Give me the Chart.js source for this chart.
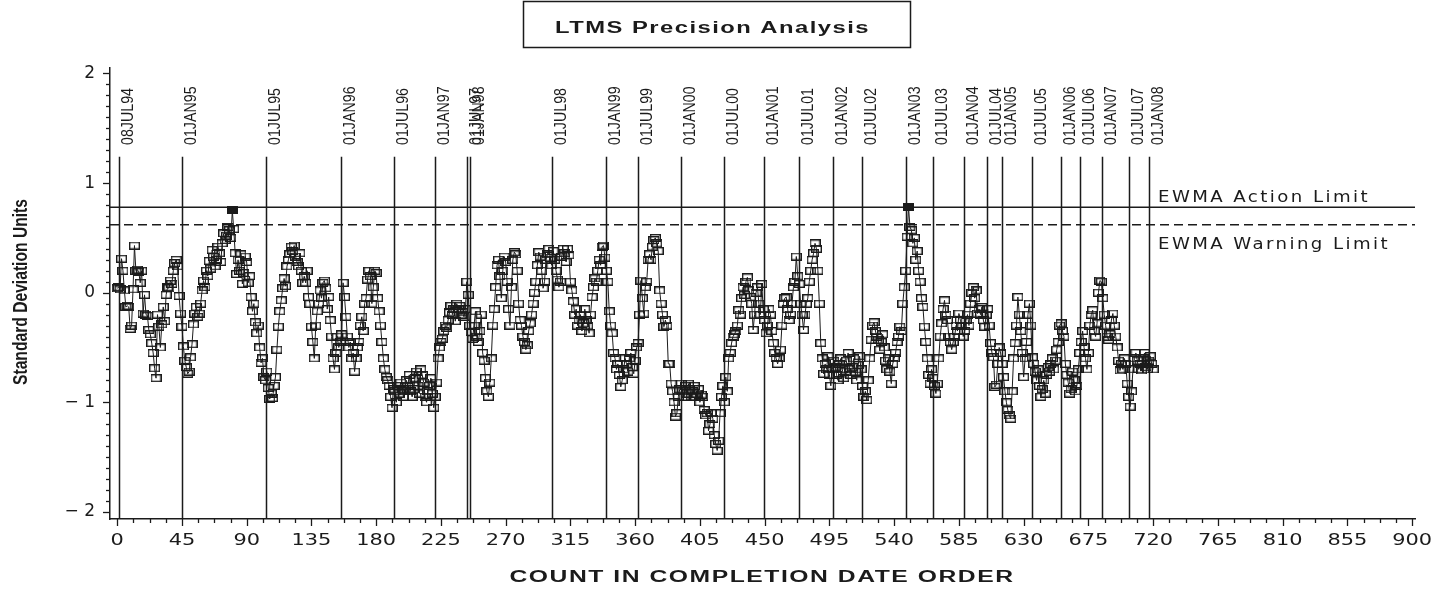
<!DOCTYPE html>
<html lang="en">
<head>
<meta charset="UTF-8">
<title>LTMS Precision Analysis</title>
<script src="https://cdn.jsdelivr.net/npm/chart.js"></script>
<style>
  body { margin: 0; background: #fff; }
  canvas { display: block; }
</style>
</head>
<body>
<canvas id="ewma" width="1451" height="593"></canvas>
<script>
// EWMA values, one per test, in completion date order (count 0..720)
const sdUnits = [
  0.04, 0.05, 0.03, 0.31, 0.20, 0.02, -0.13, -0.12, -0.13, -0.33,
  -0.30, 0.03, 0.43, 0.20, 0.21, 0.19, 0.09, 0.20, -0.19, -0.02,
  -0.20, -0.21, -0.34, -0.38, -0.46, -0.55, -0.69, -0.78, -0.20, -0.31,
  -0.50, -0.29, -0.13, -0.26, -0.02, 0.05, 0.04, 0.11, 0.08, 0.20,
  0.27, 0.30, 0.24, -0.03, -0.19, -0.31, -0.49, -0.62, -0.68, -0.74,
  -0.72, -0.59, -0.47, -0.29, -0.19, -0.13, -0.22, -0.19, -0.10, 0.02,
  0.11, 0.05, 0.20, 0.15, 0.29, 0.22, 0.39, 0.33, 0.24, 0.30,
  0.42, 0.36, 0.28, 0.45, 0.54, 0.48, 0.52, 0.60, 0.57, 0.50,
  0.75, 0.58, 0.36, 0.17, 0.30, 0.20, 0.35, 0.08, 0.18, 0.33,
  0.28, 0.09, 0.15, -0.04, -0.17, -0.10, -0.27, -0.37, -0.30, -0.50,
  -0.64, -0.60, -0.77, -0.80, -0.72, -0.87, -0.97, -0.92, -0.96, -0.85,
  -0.77, -0.52, -0.31, -0.17, -0.07, 0.04, 0.13, 0.06, 0.24, 0.30,
  0.35, 0.42, 0.38, 0.43, 0.33, 0.28, 0.24, 0.36, 0.20, 0.09,
  0.15, 0.09, 0.20, -0.04, -0.10, -0.31, -0.45, -0.60, -0.30, -0.17,
  -0.10, 0.02, -0.05, 0.09, 0.11, 0.04, -0.15, -0.04, -0.25, -0.40,
  -0.60, -0.70, -0.55, -0.40, -0.50, -0.45, -0.38, 0.09, -0.04, -0.22,
  -0.40, -0.50, -0.45, -0.60, -0.55, -0.72, -0.60, -0.50, -0.45, -0.30,
  -0.22, -0.35, -0.10, -0.05, 0.12, 0.20, 0.15, -0.10, 0.05, 0.20,
  0.18, -0.05, -0.17, -0.30, -0.45, -0.60, -0.70, -0.77, -0.80, -0.85,
  -0.95, -1.05, -0.88, -0.90, -1.00, -0.85, -0.92, -0.82, -0.88, -0.95,
  -0.90, -0.80, -0.85, -0.75, -0.90, -0.95, -0.88, -0.78, -0.72, -0.85,
  -0.92, -0.70, -0.75, -0.82, -0.95, -1.00, -0.90, -0.85, -0.78, -0.92,
  -1.05, -0.95, -0.82, -0.60, -0.50, -0.45, -0.42, -0.35, -0.30, -0.32,
  -0.25, -0.18, -0.12, -0.20, -0.15, -0.26, -0.10, -0.15, -0.12, -0.20,
  -0.18, -0.22, -0.15, 0.10, -0.02, -0.30, -0.36, -0.42, -0.30, -0.17,
  -0.40, -0.45, -0.35, -0.20, -0.55, -0.62, -0.78, -0.90, -0.95, -0.82,
  -0.60, -0.30, -0.15, 0.05, 0.25, 0.30, 0.15, -0.05, 0.20, 0.33,
  0.28, 0.10, -0.15, -0.30, 0.05, 0.30, 0.37, 0.35, 0.20, -0.10,
  -0.25, -0.30, -0.40, -0.45, -0.52, -0.48, -0.35, -0.28, -0.20, -0.10,
  0.00, 0.10, 0.25, 0.37, 0.33, 0.20, 0.04, 0.10, 0.30, 0.35,
  0.40, 0.32, 0.25, 0.38, 0.30, 0.20, 0.12, 0.05, 0.10, 0.33,
  0.40, 0.36, 0.28, 0.40, 0.34, 0.10, 0.02, -0.08, -0.20, -0.15,
  -0.30, -0.25, -0.20, -0.35, -0.28, -0.15, -0.25, -0.30, -0.37, -0.20,
  -0.04, 0.05, 0.13, 0.10, 0.20, 0.30, 0.25, 0.42, 0.43, 0.32,
  0.20, 0.10, -0.17, -0.30, -0.37, -0.55, -0.60, -0.70, -0.65, -0.75,
  -0.86, -0.80, -0.70, -0.60, -0.65, -0.72, -0.60, -0.55, -0.68, -0.74,
  -0.62, -0.50, -0.46, -0.20, 0.11, -0.05, -0.19, 0.05, 0.10, 0.30,
  0.35, 0.30, 0.42, 0.48, 0.50, 0.45, 0.38, 0.02, -0.10, -0.20,
  -0.31, -0.25, -0.30, -0.65, -0.65, -0.83, -0.90, -1.00, -1.13, -1.10,
  -0.95, -0.88, -0.83, -0.90, -0.95, -0.85, -0.92, -0.83, -0.88, -0.95,
  -0.90, -0.85, -0.95, -0.92, -0.88, -1.00, -0.93, -0.95, -1.07, -1.12,
  -1.10, -1.26, -1.20, -1.10, -1.15, -1.30, -1.38, -1.44, -1.35, -1.10,
  -0.95, -0.85, -1.00, -0.77, -0.90, -0.60, -0.55, -0.46, -0.40, -0.38,
  -0.35, -0.30, -0.16, -0.20, -0.05, 0.05, -0.02, 0.10, 0.14, 0.02,
  -0.04, -0.10, -0.34, -0.20, 0.00, 0.05, -0.10, -0.20, 0.08, -0.15,
  -0.25, -0.37, -0.30, -0.15, -0.20, -0.35, -0.46, -0.55, -0.60, -0.65,
  -0.60, -0.52, -0.30, -0.10, -0.05, -0.04, -0.15, -0.25, -0.20, -0.10,
  0.05, 0.10, 0.33, 0.15, 0.08, -0.10, -0.20, -0.34, -0.20, -0.10,
  -0.05, 0.10, 0.20, 0.30, 0.36, 0.45, 0.40, 0.20, -0.10, -0.46,
  -0.60, -0.74, -0.65, -0.70, -0.58, -0.75, -0.85, -0.70, -0.62, -0.68,
  -0.75, -0.80, -0.65, -0.60, -0.70, -0.78, -0.72, -0.62, -0.55, -0.70,
  -0.75, -0.68, -0.60, -0.72, -0.80, -0.66, -0.58, -0.70, -0.85, -0.95,
  -0.90, -0.98, -0.80, -0.60, -0.43, -0.30, -0.27, -0.35, -0.40, -0.43,
  -0.52, -0.45, -0.38, -0.50, -0.62, -0.70, -0.60, -0.72, -0.83, -0.65,
  -0.60, -0.55, -0.45, -0.40, -0.31, -0.35, -0.10, 0.05, 0.20, 0.51,
  0.78, 0.60, 0.57, 0.45, 0.50, 0.30, 0.38, 0.20, 0.10, -0.05,
  -0.13, -0.31, -0.45, -0.60, -0.75, -0.83, -0.70, -0.78, -0.85, -0.92,
  -0.83, -0.60, -0.40, -0.28, -0.15, -0.07, -0.20, -0.25, -0.40, -0.45,
  -0.52, -0.45, -0.40, -0.30, -0.35, -0.19, -0.25, -0.30, -0.40, -0.35,
  -0.25, -0.20, -0.30, -0.10, 0.00, 0.05, -0.05, 0.02, -0.19, -0.15,
  -0.20, -0.13, -0.25, -0.31, -0.20, -0.15, -0.30, -0.46, -0.55, -0.59,
  -0.86, -0.84, -0.65, -0.50, -0.55, -0.65, -0.77, -0.90, -1.00, -1.07,
  -1.12, -1.15, -0.90, -0.60, -0.46, -0.30, -0.04, -0.20, -0.35, -0.55,
  -0.77, -0.60, -0.45, -0.20, -0.10, -0.30, -0.59, -0.65, -0.72, -0.80,
  -0.70, -0.85, -0.95, -0.88, -0.80, -0.92, -0.75, -0.68, -0.72, -0.65,
  -0.60, -0.70, -0.62, -0.52, -0.45, -0.30, -0.28, -0.35, -0.40, -0.65,
  -0.75, -0.82, -0.92, -0.88, -0.72, -0.80, -0.90, -0.85, -0.70, -0.55,
  -0.45, -0.35, -0.50, -0.60, -0.70, -0.55, -0.30, -0.20, -0.16, -0.35,
  -0.40, -0.28, 0.00, 0.11, 0.10, -0.05, -0.20, -0.30, -0.40, -0.43,
  -0.38, -0.25, -0.19, -0.30, -0.40, -0.50, -0.62, -0.71, -0.65, -0.70,
  -0.60, -0.65, -0.83, -0.95, -1.04, -0.90, -0.70, -0.60, -0.55, -0.62,
  -0.70, -0.65, -0.71, -0.60, -0.55, -0.68, -0.70, -0.62, -0.58, -0.65,
  -0.70
];

const actionLimit = 0.78;
const warningLimit = 0.62;

const xTickValues = [0, 45, 90, 135, 180, 225, 270, 315, 360, 405, 450, 495, 540, 585, 630, 675, 720, 765, 810, 855, 900];
const yTickValues = [-2, -1, 0, 1, 2];
const yTickLabels = ['\u2212 2', '\u2212 1', '0', '1', '2'];

// reference dates and the count at which they fall
const dateLabels = ['08JUL94', '01JAN95', '01JUL95', '01JAN96', '01JUL96', '01JAN97', '01JUL97', '01JAN98',
  '01JUL98', '01JAN99', '01JUL99', '01JAN00', '01JUL00', '01JAN01', '01JUL01', '01JAN02', '01JUL02',
  '01JAN03', '01JUL03', '01JAN04', '01JUL04', '01JAN05', '01JUL05', '01JAN06', '01JUL06', '01JAN07',
  '01JUL07', '01JAN08'];
const dateCounts = [1, 45, 103.5, 155.4, 192.5, 221, 243, 245, 302.5, 339.8, 362.3, 392, 421.4, 449.6,
  474.2, 497.8, 517.5, 548, 567.3, 588.6, 604.4, 615.3, 636, 655.8, 669.3, 684.8, 702.9, 717.2];

const ink = '#1b1b1b';
const xMin = -5, xMax = 902, yMin = -2.065, yMax = 2.05;
const dateLineTop = 1.24;

function boxImage(filled) {
  const c = document.createElement('canvas');
  c.width = 11; c.height = 8;
  const g = c.getContext('2d');
  g.strokeStyle = ink; g.lineWidth = 1.4;
  if (filled) { g.fillStyle = ink; g.fillRect(0.7, 0.7, 9.6, 6.6); }
  g.strokeRect(0.7, 0.7, 9.6, 6.6);
  return c;
}
const openBox = boxImage(false);
const fullBox = boxImage(true);

// draw text squeezed/stretched to a given width
function fitText(ctx, text, x, y, width, align) {
  const w = ctx.measureText(text).width;
  ctx.save();
  ctx.translate(x, y);
  ctx.scale(width / w, 1);
  ctx.textAlign = align;
  ctx.fillText(text, 0, 0);
  ctx.restore();
}

function line(ctx, x1, y1, x2, y2) {
  ctx.beginPath(); ctx.moveTo(x1, y1); ctx.lineTo(x2, y2); ctx.stroke();
}

const decor = {
  id: 'decor',
  beforeDatasetsDraw(chart) {
    const { ctx, chartArea: a, scales: { x, y } } = chart;
    ctx.save();
    ctx.strokeStyle = ink;
    ctx.fillStyle = ink;
    ctx.lineWidth = 1.5;
    ctx.font = '16px "Liberation Sans", Arial, sans-serif';
    ctx.textBaseline = 'alphabetic';
    const s = 57 / ctx.measureText('08JUL94').width;
    const top = y.getPixelForValue(dateLineTop);
    dateCounts.forEach((c, i) => {
      const px = Math.round(x.getPixelForValue(c)) + 0.5;
      line(ctx, px, top, px, a.bottom);
      ctx.save();
      ctx.translate(px + 13, 145);
      ctx.rotate(-Math.PI / 2);
      ctx.scale(s, 1);
      ctx.textAlign = 'left';
      ctx.fillText(dateLabels[i], 0, 0);
      ctx.restore();
    });
    ctx.restore();
  },
  afterDraw(chart) {
    const { ctx, chartArea: a, scales: { x, y } } = chart;
    ctx.save();
    ctx.strokeStyle = ink;
    ctx.fillStyle = ink;
    ctx.lineWidth = 1.3;

    // tick marks, major and minor
    for (let k = -20; k <= 20; k++) {
      const py = Math.round(y.getPixelForValue(k / 10)) + 0.5;
      line(ctx, a.left - (k % 10 === 0 ? 7 : 4), py, a.left, py);
    }
    for (let k = 0; k <= 80; k++) {
      const px = Math.round(x.getPixelForValue(k * 11.25)) + 0.5;
      line(ctx, px, a.bottom, px, a.bottom + (k % 4 === 0 ? 7 : 4));
    }

    // x tick labels
    ctx.font = '15px "DejaVu Sans", sans-serif';
    ctx.textBaseline = 'alphabetic';
    x.ticks.forEach(t => {
      const txt = String(t.value);
      fitText(ctx, txt, x.getPixelForValue(t.value), 545, 13.3 * txt.length, 'center');
    });

    // limit labels
    ctx.font = '15px "DejaVu Sans", sans-serif';
    ctx.letterSpacing = '2px';
    fitText(ctx, 'EWMA Action Limit', 1158, 202, 212, 'left');
    fitText(ctx, 'EWMA Warning Limit', 1158, 249, 232, 'left');
    ctx.letterSpacing = '0px';

    // title box
    ctx.lineWidth = 1.5;
    ctx.strokeRect(523.5, 1.5, 387, 46);
    ctx.font = 'bold 16px "Liberation Sans", Arial, sans-serif';
    ctx.letterSpacing = '1px';
    fitText(ctx, 'LTMS Precision Analysis', 712.5, 33, 315, 'center');

    // axis titles
    fitText(ctx, 'COUNT IN COMPLETION DATE ORDER', 762, 582, 505, 'center');
    ctx.letterSpacing = '0px';
    ctx.save();
    ctx.translate(27, 292);
    ctx.rotate(-Math.PI / 2);
    ctx.font = 'bold 21px "Liberation Sans Narrow", "Liberation Sans", Arial, sans-serif';
    fitText(ctx, 'Standard Deviation Units', 0, 0, 186, 'center');
    ctx.restore();
    ctx.restore();
  }
};

const points = sdUnits.map((v, i) => ({ x: i, y: v }));

new Chart(document.getElementById('ewma'), {
  type: 'line',
  data: {
    datasets: [
      {
        data: points,
        borderColor: ink,
        borderWidth: 1,
        pointRadius: 4,
        pointStyle: ctx => (ctx.raw && ctx.raw.y > warningLimit ? fullBox : openBox),
        tension: 0
      },
      {
        data: [{ x: xMin, y: actionLimit }, { x: xMax, y: actionLimit }],
        borderColor: ink,
        borderWidth: 1.5,
        pointRadius: 0
      },
      {
        data: [{ x: xMin, y: warningLimit }, { x: xMax, y: warningLimit }],
        borderColor: ink,
        borderWidth: 1.5,
        borderDash: [9, 5],
        pointRadius: 0
      }
    ]
  },
  options: {
    responsive: false,
    animation: false,
    events: [],
    layout: { padding: { top: 68, right: 36, left: 0, bottom: 0 } },
    plugins: { legend: { display: false }, tooltip: { enabled: false } },
    scales: {
      x: {
        type: 'linear',
        min: xMin,
        max: xMax,
        afterBuildTicks: scale => { scale.ticks = xTickValues.map(v => ({ value: v })); },
        afterFit: scale => { scale.height = 74; },
        grid: { display: false, drawTicks: false },
        border: { display: true, color: ink, width: 1.5 },
        ticks: { display: false }
      },
      y: {
        type: 'linear',
        min: yMin,
        max: yMax,
        afterBuildTicks: scale => { scale.ticks = yTickValues.map(v => ({ value: v })); },
        afterFit: scale => { scale.width = 110; },
        grid: { display: false, drawTicks: false },
        border: { display: true, color: ink, width: 1.5 },
        ticks: {
          padding: 15,
          color: ink,
          font: { family: 'DejaVu Sans', size: 17 },
          callback: (v, i) => yTickLabels[i]
        }
      }
    }
  },
  plugins: [decor]
});
</script>
</body>
</html>
